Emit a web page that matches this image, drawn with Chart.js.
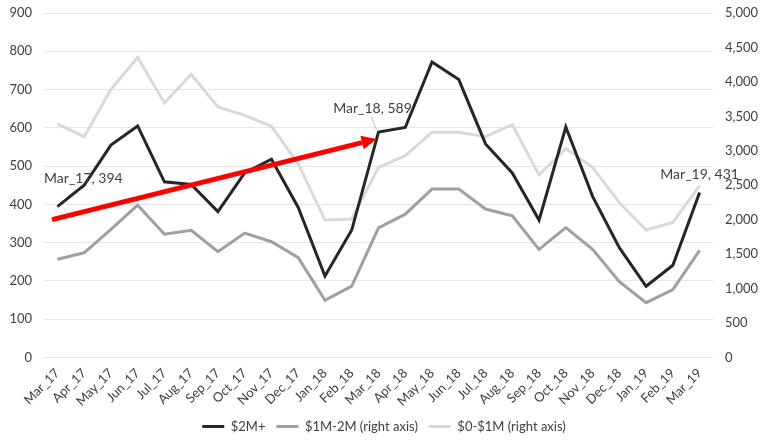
<!DOCTYPE html>
<html>
<head>
<meta charset="utf-8">
<script src="https://cdn.jsdelivr.net/npm/chart.js@4"></script>
<style>
html,body{margin:0;padding:0;background:#fff;}
#wrap{width:768px;height:443px;}
</style>
</head>
<body>
<div id="wrap"><canvas id="c" width="768" height="443"></canvas></div>
<script>
const categories = ["Mar_17","Apr_17","May_17","Jun_17","Jul_17","Aug_17","Sep_17","Oct_17","Nov_17","Dec_17","Jan_18","Feb_18","Mar_18","Apr_18","May_18","Jun_18","Jul_18","Aug_18","Sep_18","Oct_18","Nov_18","Dec_18","Jan_19","Feb_19","Mar_19"];
const over2M = [394,450,555,605,459,452,381,482,518,392,213,333,589,601,772,726,558,482,359,602,421,287,186,241,431];
const m1to2 = [1425,1520,1860,2210,1790,1845,1535,1805,1680,1450,830,1035,1880,2080,2445,2445,2155,2055,1570,1885,1570,1100,795,985,1555];
const m0to1 = [3390,3205,3890,4355,3695,4110,3635,3515,3355,2810,1995,2010,2760,2930,3270,3270,3205,3380,2650,3030,2760,2250,1850,1960,2495];
const leftTicks = [0,100,200,300,400,500,600,700,800,900];
const rightTicks = [0,500,1000,1500,2000,2500,3000,3500,4000,4500,5000];
const seriesNames = ["$2M+","$1M-2M (right axis)","$0-$1M (right axis)"];
// trend arrow: [category index, left-axis value]
const arrowStart = [-0.2, 360];
const arrowEnd = [11.93, 571];
// data labels on $2M+ : category index
const labelIdx = [0, 12, 24];

const FONT = "Lato, 'Noto Sans', sans-serif";

const annotPlugin = {
  id: 'annot',
  afterDatasetsDraw(chart) {
    const ctx = chart.ctx;
    const xs = chart.scales.x, yl = chart.scales.y;
    const x1 = xs.getPixelForValue(arrowStart[0]), y1 = yl.getPixelForValue(arrowStart[1]);
    const x2 = xs.getPixelForValue(arrowEnd[0]), y2 = yl.getPixelForValue(arrowEnd[1]);
    const ang = Math.atan2(y2 - y1, x2 - x1);
    const headLen = 15, headW = 7;
    const bx = x2 - headLen * Math.cos(ang), by = y2 - headLen * Math.sin(ang);
    ctx.save();
    ctx.strokeStyle = '#ff0000';
    ctx.fillStyle = '#ff0000';
    ctx.lineWidth = 5;
    ctx.beginPath(); ctx.moveTo(x1, y1); ctx.lineTo(bx, by); ctx.stroke();
    ctx.beginPath();
    ctx.moveTo(x2, y2);
    ctx.lineTo(bx + headW * Math.sin(ang), by - headW * Math.cos(ang));
    ctx.lineTo(bx - headW * Math.sin(ang), by + headW * Math.cos(ang));
    ctx.closePath(); ctx.fill();
    ctx.restore();

    ctx.save();
    ctx.font = "14px " + FONT;
    ctx.fillStyle = '#404040';
    ctx.textBaseline = 'middle';
    ctx.textAlign = 'center';
    const offsets = [[26, -28], [-6, -24], [0, -18]];
    labelIdx.forEach((i, k) => {
      const px = xs.getPixelForValue(i), py = yl.getPixelForValue(over2M[i]);
      const tx = px + offsets[k][0], ty = py + offsets[k][1];
      if (k === 1) {
        ctx.strokeStyle = '#bfbfbf';
        ctx.lineWidth = 1;
        ctx.beginPath(); ctx.moveTo(tx - 1, ty + 9); ctx.lineTo(px - 2, py - 2); ctx.stroke();
      }
      ctx.fillText(categories[i] + ", " + over2M[i], tx, ty);
    });
    ctx.restore();
  }
};

new Chart(document.getElementById('c'), {
  type: 'line',
  data: {
    labels: categories,
    datasets: [
      { label: seriesNames[0], data: over2M, yAxisID: 'y', borderColor: '#262626', backgroundColor: '#262626', borderWidth: 3, pointRadius: 0, tension: 0 },
      { label: seriesNames[1], data: m1to2, yAxisID: 'y1', borderColor: '#a0a0a0', backgroundColor: '#a0a0a0', borderWidth: 3, pointRadius: 0, tension: 0 },
      { label: seriesNames[2], data: m0to1, yAxisID: 'y1', borderColor: '#d9d9d9', backgroundColor: '#d9d9d9', borderWidth: 3, pointRadius: 0, tension: 0 }
    ]
  },
  options: {
    responsive: false,
    animation: false,
    devicePixelRatio: 1,
    layout: { padding: { top: 0, left: 4, right: 4, bottom: 0 } },
    plugins: {
      tooltip: { enabled: false },
      legend: {
        position: 'bottom',
        labels: {
          font: { family: FONT, size: 13 },
          color: '#404040',
          usePointStyle: true,
          pointStyle: 'line',
          pointStyleWidth: 22,
          boxHeight: 8,
          padding: 11
        }
      }
    },
    scales: {
      x: {
        offset: true,
        grid: { display: false },
        border: { display: false },
        ticks: { font: { family: FONT, size: 13 }, color: '#404040', maxRotation: 45, minRotation: 45, autoSkip: false, padding: 0 }
      },
      y: {
        position: 'left',
        min: 0, max: 900,
        afterBuildTicks(ax) { ax.ticks = leftTicks.map(v => ({ value: v })); },
        afterFit(ax) { ax.width = 40; ax.paddingTop = 13; },
        grid: { color: '#e6e6e6', lineWidth: 1, drawTicks: false },
        border: { display: false },
        ticks: { font: { family: FONT, size: 13 }, color: '#404040', padding: 12 }
      },
      y1: {
        position: 'right',
        min: 0, max: 5000,
        afterBuildTicks(ax) { ax.ticks = rightTicks.map(v => ({ value: v })); },
        afterFit(ax) { ax.width = 51; ax.paddingTop = 13; },
        grid: { display: false },
        border: { display: false },
        ticks: { font: { family: FONT, size: 13 }, color: '#404040', padding: 4, callback: v => v.toLocaleString('en-US') }
      }
    }
  },
  plugins: [annotPlugin]
});
</script>
</body>
</html>
